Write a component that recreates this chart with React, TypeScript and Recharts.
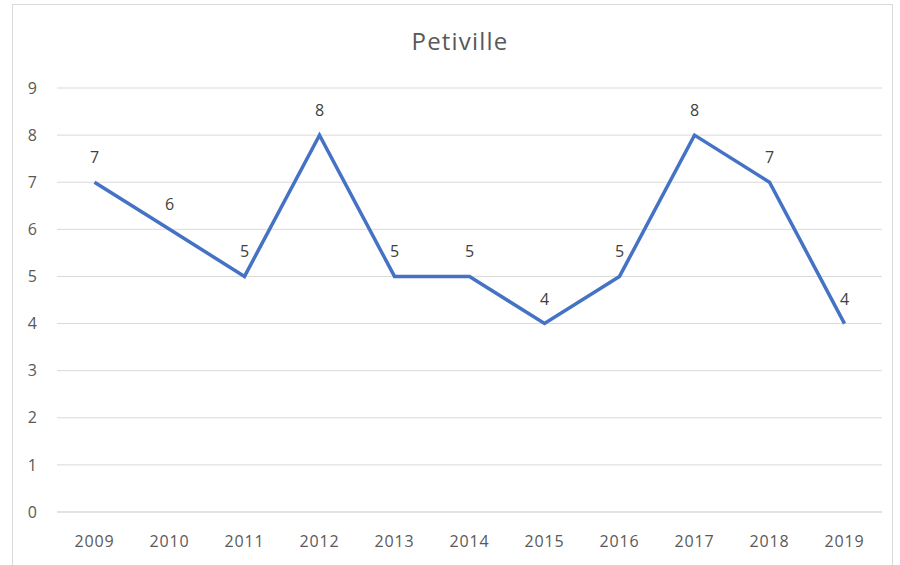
import React from "react";
import { LineChart, Line, XAxis, YAxis, CartesianGrid, LabelList } from "recharts";

const years = ["2009", "2010", "2011", "2012", "2013", "2014", "2015", "2016", "2017", "2018", "2019"];
const values = [7, 6, 5, 8, 5, 5, 4, 5, 8, 7, 4];
const yTicks = [0, 1, 2, 3, 4, 5, 6, 7, 8, 9];
const title = "Petiville";

const data = years.map((year, i) => ({ year, value: values[i] }));

const FONT = "'Open Sans', 'Noto Sans', sans-serif";

export default function App() {
  return (
    <div style={{ position: "absolute", left: 0, top: 0, width: 900, height: 565, background: "#fff", fontFamily: FONT }}>
      <div
        style={{
          position: "absolute",
          left: 12,
          top: 4,
          width: 881,
          height: 570,
          border: "1px solid #d9d9d9",
          boxSizing: "border-box",
        }}
      />
      <div
        style={{
          position: "absolute",
          left: 0,
          top: 24,
          width: 920,
          textAlign: "center",
          fontSize: 24,
          color: "#595959",
          letterSpacing: 1.2,
        }}
      >
        {title}
      </div>
      <div style={{ position: "absolute", left: 0, top: 0 }}>
        <LineChart width={900} height={565} data={data} margin={{ top: 88, right: 18, bottom: 23, left: 12 }}>
          <CartesianGrid vertical={false} stroke="#d9d9d9" strokeWidth={1} />
          <XAxis
            dataKey="year"
            height={30}
            padding={{ left: 37.5, right: 37.5 }}
            axisLine={{ stroke: "#d9d9d9" }}
            tickLine={false}
            tickSize={0}
            tickMargin={24}
            tick={{ fill: "#595959", fontSize: 16, fontFamily: FONT, letterSpacing: 0.8 }}
          />
          <YAxis
            width={45}
            domain={[0, 9]}
            ticks={yTicks}
            interval={0}
            axisLine={false}
            tickLine={false}
            tickSize={0}
            tickMargin={20}
            tick={{ fill: "#595959", fontSize: 16, fontFamily: FONT }}
          />
          <Line
            dataKey="value"
            type="linear"
            stroke="#4472C4"
            strokeWidth={3.5}
            dot={false}
            activeDot={false}
            isAnimationActive={false}
          >
            <LabelList dataKey="value" position="top" offset={19} fill="#404040" fontSize={16} fontFamily={FONT} />
          </Line>
        </LineChart>
      </div>
    </div>
  );
}
